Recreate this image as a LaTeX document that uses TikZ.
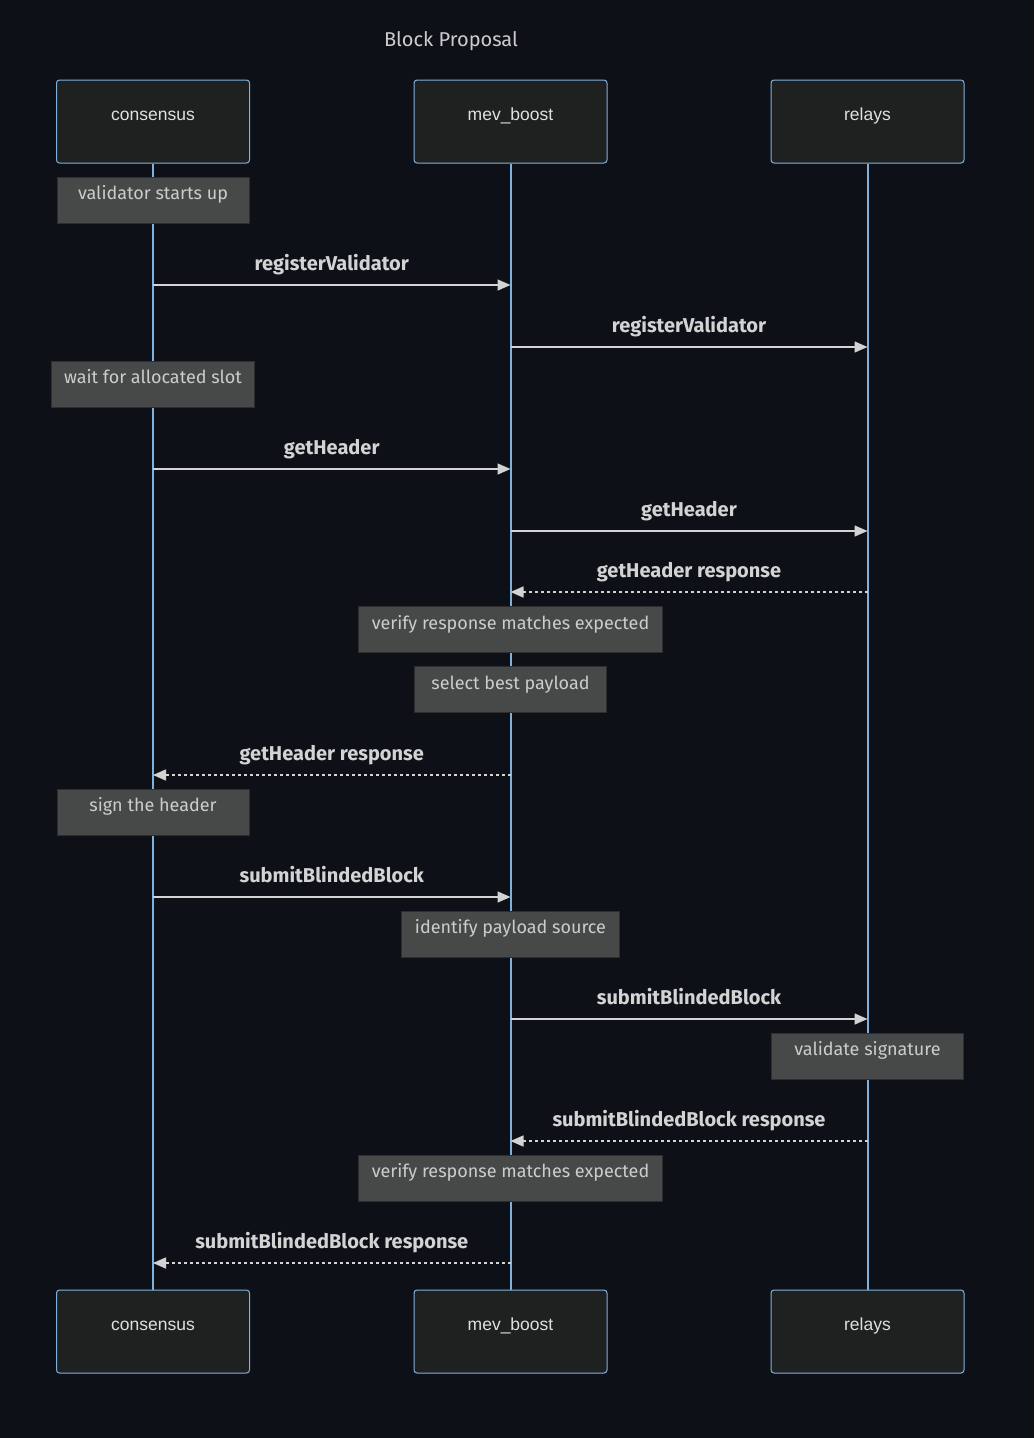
\documentclass[tikz,border=0pt]{standalone}
\usepackage{fontspec}
\setmainfont{Fira Sans}
\newfontfamily\actorfont{Liberation Sans}
\usepackage{tikz}
\usetikzlibrary{arrows.meta, positioning}
\definecolor{bgdark}{HTML}{0D1117}
\definecolor{actorfill}{HTML}{1F2020}
\definecolor{actorline}{HTML}{81B1DB}
\definecolor{notefill}{HTML}{474949}
\definecolor{noteline}{HTML}{2E2E2E}
\definecolor{msgline}{HTML}{D3D3D3}
\definecolor{softtext}{HTML}{CCCCCC}

\begin{document}
\begin{tikzpicture}[x=1pt, y=-1pt,
				>={Triangle[length=13pt,width=11pt]},
				actor/.style={draw=actorline, fill=actorfill, line width=1pt, rounded corners=3pt,
					minimum width=193pt, minimum height=83pt, inner sep=0pt, text=white!88!black,
					font=\actorfont\fontsize{17.5}{21}\selectfont, text height=12.5pt, text depth=14.5pt},
				note/.style={draw=noteline, fill=notefill, line width=1pt, minimum width=192pt,
					minimum height=46pt, inner xsep=13pt, inner ysep=0pt, text=softtext,
					font=\fontsize{18}{22}\selectfont, text height=13pt, text depth=13.5pt},
				life/.style={actorline, line width=2pt},
				msg/.style={->, msgline, line width=1.5pt},
				reply/.style={msg, dash pattern=on 3pt off 3pt},
				lbl/.style={midway, anchor=base, yshift=15pt, text=msgline,
					font=\bfseries\fontsize{20}{24}\selectfont}]
				% background and frame
				\fill[bgdark] (0,0) rectangle (1034,1438);
				\useasboundingbox (0,0) rectangle (1034,1438);
				\node at (451,41) (title) [text=softtext, font=\fontsize{20}{24}\selectfont] {Block Proposal};
				% participants
				\node at (153,121.5) (ct) [actor] {consensus};
				\node at (510.5,121.5) (mt) [actor] {mev\_boost};
				\node at (867.5,121.5) (rt) [actor] {relays};
				\node at (153,1331.5) (cb) [actor] {consensus};
				\node at (510.5,1331.5) (mb) [actor] {mev\_boost};
				\node at (867.5,1331.5) (rb) [actor] {relays};
				\draw[life] (ct) -- (cb);
				\draw[life] (mt) -- (mb);
				\draw[life] (rt) -- (rb);
				% notes
				\node at (153,200) (n1) [note] {validator starts up};
				\node at (153,384) (n2) [note] {wait for allocated slot};
				\node at (510.5,629.5) (n3) [note] {verify response matches expected};
				\node at (510.5,689.5) (n4) [note] {select best payload};
				\node at (153,812) (n5) [note] {sign the header};
				\node at (510.5,934) (n6) [note] {identify payload source};
				\node at (867.5,1056) (n7) [note] {validate signature};
				\node at (510.5,1178) (n8) [note] {verify response matches expected};
				% message ends on the lifelines
				\coordinate (c1) at (153,285);    \coordinate (m1) at (510.5,285);
				\coordinate (m2) at (510.5,347);  \coordinate (r2) at (867.5,347);
				\coordinate (c3) at (153,469);    \coordinate (m3) at (510.5,469);
				\coordinate (m4) at (510.5,531);  \coordinate (r4) at (867.5,531);
				\coordinate (m5) at (510.5,592);  \coordinate (r5) at (867.5,592);
				\coordinate (c6) at (153,775);    \coordinate (m6) at (510.5,775);
				\coordinate (c7) at (153,897);    \coordinate (m7) at (510.5,897);
				\coordinate (m8) at (510.5,1019); \coordinate (r8) at (867.5,1019);
				\coordinate (m9) at (510.5,1141); \coordinate (r9) at (867.5,1141);
				\coordinate (c10) at (153,1263);  \coordinate (m10) at (510.5,1263);
				% messages
				\draw[msg] (c1) -- (m1) node[lbl] {registerValidator};
				\draw[msg] (m2) -- (r2) node[lbl] {registerValidator};
				\draw[msg] (c3) -- (m3) node[lbl] {getHeader};
				\draw[msg] (m4) -- (r4) node[lbl] {getHeader};
				\draw[reply] (r5) -- (m5) node[lbl] {getHeader response};
				\draw[reply] (m6) -- (c6) node[lbl] {getHeader response};
				\draw[msg] (c7) -- (m7) node[lbl] {submitBlindedBlock};
				\draw[msg] (m8) -- (r8) node[lbl] {submitBlindedBlock};
				\draw[reply] (r9) -- (m9) node[lbl] {submitBlindedBlock response};
				\draw[reply] (m10) -- (c10) node[lbl] {submitBlindedBlock response};
			\end{tikzpicture}
\end{document}
